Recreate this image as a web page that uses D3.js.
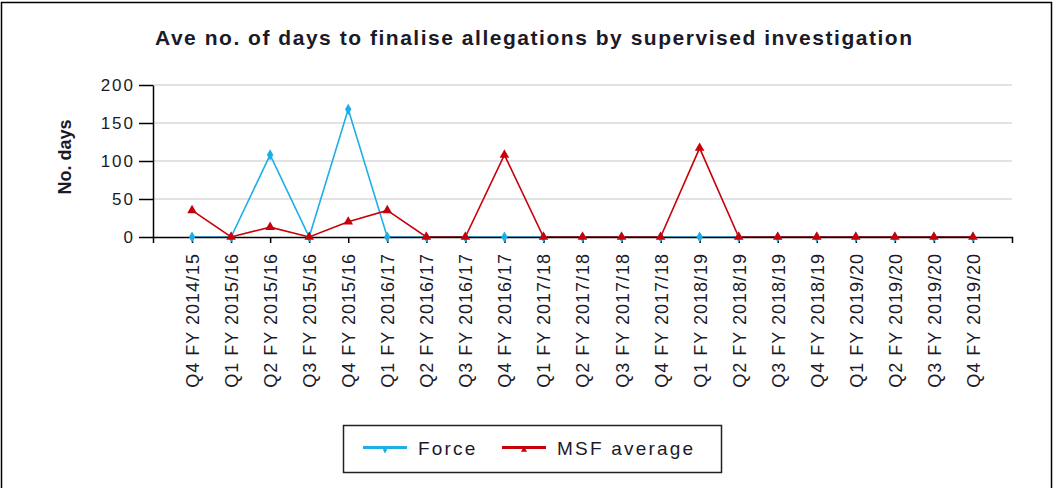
<!DOCTYPE html>
<html>
<head>
<meta charset="utf-8">
<script src="https://cdn.jsdelivr.net/npm/d3@7"></script>
<style>
  html, body { margin: 0; padding: 0; background: #fff; }
  svg { display: block; }
  text { font-family: "Liberation Sans", Arial, sans-serif; fill: #1a1a2a; }
</style>
</head>
<body>
<script>
const categories = [
  "Q4 FY 2014/15", "Q1 FY 2015/16", "Q2 FY 2015/16", "Q3 FY 2015/16", "Q4 FY 2015/16",
  "Q1 FY 2016/17", "Q2 FY 2016/17", "Q3 FY 2016/17", "Q4 FY 2016/17", "Q1 FY 2017/18",
  "Q2 FY 2017/18", "Q3 FY 2017/18", "Q4 FY 2017/18", "Q1 FY 2018/19", "Q2 FY 2018/19",
  "Q3 FY 2018/19", "Q4 FY 2018/19", "Q1 FY 2019/20", "Q2 FY 2019/20", "Q3 FY 2019/20",
  "Q4 FY 2019/20"
];
const forceValues = [0, 0, 108, 0, 168, 0, 0, 0, 0, 0, 0, 0, 0, 0, 0, 0, 0, 0, 0, 0, 0];
const msfValues   = [35, 0, 13, 0, 20, 35, 0, 0, 108, 0, 0, 0, 0, 117, 0, 0, 0, 0, 0, 0, 0];
const yTicks = [0, 50, 100, 150, 200];
const seriesNames = ["Force", "MSF average"];

const W = 1055, H = 488;
const svg = d3.select("body").append("svg").attr("width", W).attr("height", H);

// outer frame
svg.append("rect").attr("x", 1.5).attr("y", 2.5).attr("width", 1050).attr("height", 500)
  .attr("fill", "none").attr("stroke", "#000").attr("stroke-width", 1.5);

const x = d3.scalePoint().domain(categories).range([153, 1012]).padding(1);
const y = d3.scaleLinear().domain([0, 200]).range([237, 85]);

// title
svg.append("text").attr("x", 155).attr("y", 45).attr("text-anchor", "start")
  .attr("textLength", 757).attr("lengthAdjust", "spacing")
  .style("font-size", "21px").style("font-weight", "bold")
  .text("Ave no. of days to finalise allegations by supervised investigation");

// y label
svg.append("text").attr("transform", "translate(71,157) rotate(-90)").attr("text-anchor", "middle")
  .style("font-size", "18px").style("font-weight", "bold")
  .text("No. days");

// gridlines
svg.append("g").selectAll("line").data(yTicks.filter(d => d > 0)).join("line")
  .attr("x1", 153).attr("x2", 1012).attr("y1", d => y(d)).attr("y2", d => y(d))
  .attr("stroke", "#d9d9d9").attr("stroke-width", 1.5);

// series
const colors = { force: "#1eaee6", msf: "#c8000a" };
const line = d3.line().x((d, i) => x(categories[i])).y(d => y(d));

svg.append("path").datum(forceValues).attr("d", line).attr("fill", "none")
  .attr("stroke", colors.force).attr("stroke-width", 1.6);
svg.append("path").datum(msfValues).attr("d", line).attr("fill", "none")
  .attr("stroke", colors.msf).attr("stroke-width", 1.6);

// axes
const yAxis = d3.axisLeft(y).tickValues(yTicks).tickSize(14).tickPadding(4).tickSizeOuter(0);
const gy = svg.append("g").attr("transform", "translate(153,0)").call(yAxis);
gy.select(".domain").attr("stroke", "#000").attr("stroke-width", 1.5);
gy.selectAll(".tick line").attr("stroke", "#000").attr("stroke-width", 1.5);
gy.selectAll(".tick text").style("font-size", "17px").style("letter-spacing", "2px")
  .attr("fill", "#1a1a2a").style("font-family", "Liberation Sans, Arial, sans-serif");

const xAxis = d3.axisBottom(x).tickSize(6).tickSizeOuter(6);
const gx = svg.append("g").attr("transform", "translate(0,237)").call(xAxis);
gx.select(".domain").attr("stroke", "#000").attr("stroke-width", 1.5);
gx.selectAll(".tick line").attr("stroke", "#000").attr("stroke-width", 1.5);
gx.selectAll(".tick text")
  .attr("transform", "rotate(-90)")
  .attr("text-anchor", "end")
  .attr("x", -16).attr("y", 0).attr("dy", "0.36em")
  .style("font-size", "18px").style("letter-spacing", "1px")
  .attr("fill", "#1a1a2a").style("font-family", "Liberation Sans, Arial, sans-serif");

// markers
const diamond = d3.symbol().type(d3.symbolDiamond).size(36);
const triangle = d3.symbol().type(d3.symbolTriangle).size(40);
svg.append("g").selectAll("path").data(forceValues).join("path")
  .attr("d", diamond).attr("fill", colors.force)
  .attr("transform", (d, i) => `translate(${x(categories[i])},${y(d)})`);
svg.append("g").selectAll("path").data(msfValues).join("path")
  .attr("d", triangle).attr("fill", colors.msf)
  .attr("transform", (d, i) => `translate(${x(categories[i])},${y(d)})`);

// legend
const lg = svg.append("g");
lg.append("rect").attr("x", 343.5).attr("y", 425.5).attr("width", 378).attr("height", 47)
  .attr("fill", "#fff").attr("stroke", "#222").attr("stroke-width", 1.5);
const legendItems = [
  { name: seriesNames[0], color: colors.force, x1: 363, x2: 407, tx: 418 },
  { name: seriesNames[1], color: colors.msf, x1: 502, x2: 546, tx: 557 }
];
legendItems.forEach((it, k) => {
  lg.append("line").attr("x1", it.x1).attr("x2", it.x2).attr("y1", 447.5).attr("y2", 447.5)
    .attr("stroke", it.color).attr("stroke-width", 3);
  lg.append("path").attr("d", k === 0 ? d3.symbol().type(d3.symbolDiamond).size(14)() : d3.symbol().type(d3.symbolTriangle).size(16)())
    .attr("fill", it.color).attr("transform", `translate(${(it.x1 + it.x2) / 2},450)`);
  lg.append("text").attr("x", it.tx).attr("y", 455).style("font-size", "19px").style("letter-spacing", "2.2px")
    .text(it.name);
});
</script>
</body>
</html>
